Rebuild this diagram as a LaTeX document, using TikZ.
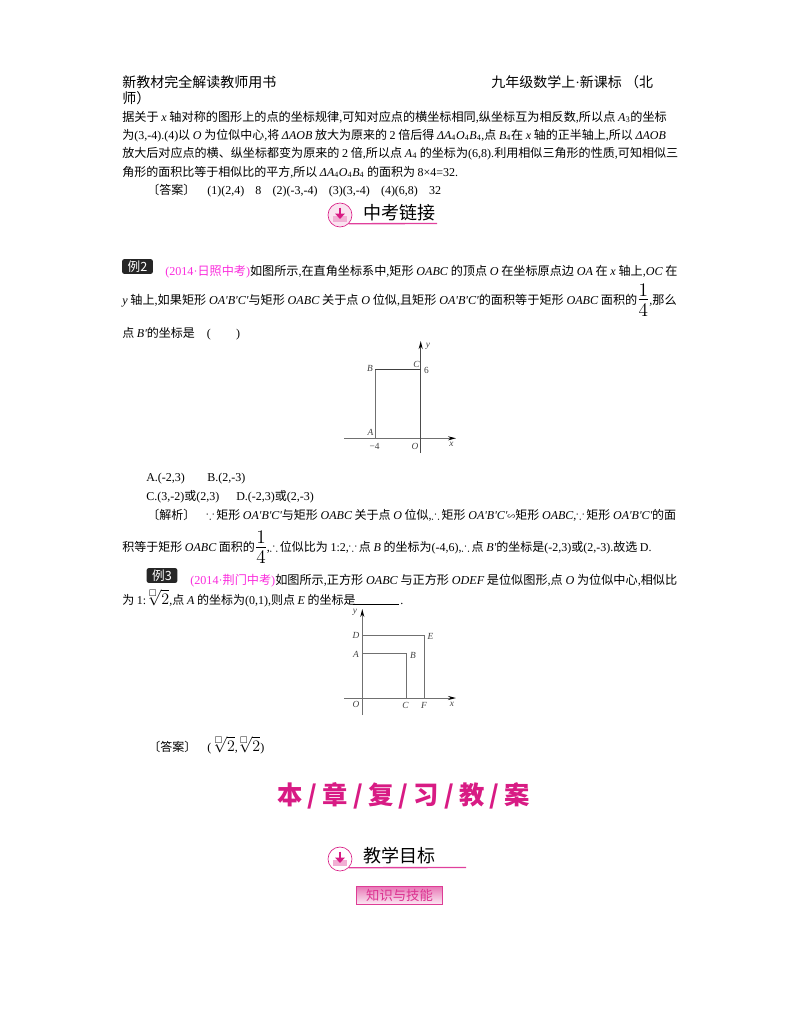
\documentclass[tikz,border=0pt]{standalone}
\usepackage{amsmath,amssymb}
\usepackage[no-math]{fontspec}
\setmainfont{Noto Sans CJK SC}
\newfontfamily\latinf{Liberation Serif}
\usetikzlibrary{positioning,arrows.meta}
\definecolor{zkpink}{HTML}{D81B84}
\definecolor{zkline}{HTML}{E0409C}
\definecolor{zkmag}{HTML}{FA2CDC}
\definecolor{zkaxis}{HTML}{707070}
\newcommand{\en}[1]{{\latinf #1}}
\newcommand{\vv}[1]{{\latinf\itshape #1}}
\newcommand{\low}[1]{\textsubscript{\latinf #1}}
\newcommand{\quarter}{{\fontsize{13.5}{14}\selectfont\kern1pt\raisebox{-9.5pt}{\vbox{\offinterlineskip\hsize=7pt\hbox to 7pt{\hfil$1$\hfil}\kern2.6pt\hrule height 0.6pt\kern3pt\hbox to 7pt{\hfil$4$\hfil}}}\kern1pt}}
\newcommand{\cbrt}{{\fontsize{11.5}{11.5}\selectfont$\sqrt[\square]{2}$}}
\newcommand{\simsign}{{\fontsize{6}{6}\selectfont ∽}}
\newcommand{\thfr}{$\therefore$\hspace{1.5pt}}
\newcommand{\bcs}{$\because$\hspace{1.5pt}}
\tikzset{
  bodyline/.style={anchor=base west, inner sep=0pt, font=\fontsize{9}{11}\selectfont},
  bodyfit/.style={bodyline, font=\fontsize{#1}{11}\selectfont},
  headline/.style={anchor=base west, inner sep=0pt, font=\fontsize{10.5}{12}\selectfont},
  sechead/.style={anchor=base west, inner sep=0pt, font=\fontsize{13.5}{15}\selectfont},
  examtag/.style={fill=black!85, text=white, rounded corners=1.5pt, minimum width=23pt, minimum height=11pt, inner sep=0pt, font=\fontsize{9.5}{10}\selectfont},
  axisline/.style={draw=zkaxis, line width=0.7pt},
  axisarrow/.style={axisline, -{Stealth[length=6pt,width=3pt,black]}},
  axislabel/.style={inner sep=0pt, text=black!75, font=\latinf\itshape\fontsize{7}{8}\selectfont},
  iconring/.style={circle, draw=zkpink, fill=#1, line width=0.5pt, minimum size=18pt, inner sep=0pt},
  underpink/.style={draw=zkline, line width=1pt},
  icontray/.style={fill=zkpink!35},
  iconarrow/.style={-{Triangle[length=4pt,width=7pt]}, zkpink, line width=2pt},
}
\begin{document}
\begin{tikzpicture}[x=0.75pt,y=-0.75pt]
	\useasboundingbox (0,0) rectangle (800,1028);
	% Header
	\node[headline] (hdrL) at (122,87) {新教材完全解读教师用书};
	\node[headline] (hdrR) at (491,87) {九年级数学上\en{·}新课标 （北};
	\node[headline] (hdrW) at (122,103) {师）};

	% Answer text
	\node[bodyfit=9.1] (ans1) at (122,121) {据关于 \vv{x} 轴对称的图形上的点的坐标规律\en{,}可知对应点的横坐标相同\en{,}纵坐标互为相反数\en{,}所以点 \vv{A}\low{3}的坐标};
	\node[bodyline] (ans2) at (122,139) {为\en{(3,-4).(4)}以 \vv{O} 为位似中心\en{,}将 \vv{ΔAOB} 放大为原来的 \en{2} 倍后得 \vv{ΔA}\low{4}\vv{O}\low{4}\vv{B}\low{4}\en{,}点 \vv{B}\low{4}在 \vv{x} 轴的正半轴上\en{,}所以 \vv{ΔAOB}};
	\node[bodyfit=9.05] (ans3) at (122,157) {放大后对应点的横、纵坐标都变为原来的 \en{2} 倍\en{,}所以点 \vv{A}\low{4} 的坐标为\en{(6,8).}利用相似三角形的性质\en{,}可知相似三};
	\node[bodyline] (ans4) at (122,176) {角形的面积比等于相似比的平方\en{,}所以 \vv{ΔA}\low{4}\vv{O}\low{4}\vv{B}\low{4} 的面积为 \en{8×4=32.}};
	\node[bodyline] (ans5) at (147,194) {〔答案〕};
	\node[bodyline] (ans6) at (207,194) {\en{(1)(2,4)\hspace{8.4pt}8\hspace{8.4pt}(2)(-3,-4)\hspace{8.4pt}(3)(3,-4)\hspace{8.4pt}(4)(6,8)\hspace{8.4pt}32}};

	% Section head one
	\node[iconring=zkpink!12] (ic1) at (340,215) {};
	\node[sechead] (sec1) at (363,219) {中考链接};
	\coordinate (ic1e) at (437,223.5);
	\draw[underpink] (ic1.-45) -- (ic1e);
	\fill[icontray] ([xshift=-5pt,yshift=-1pt]ic1.center) rectangle ([xshift=5pt,yshift=-5pt]ic1.center);
	\draw[iconarrow] ([yshift=5.5pt]ic1.center) -- ([yshift=-3pt]ic1.center);

	% Example two
	\node[examtag] (tag2) at (137.5,266.5) {例2};
	\node[bodyfit=9.09] (ex2a) at (165,275) {\textcolor{zkmag}{\en{(2014·}日照中考\en{)}}如图所示\en{,}在直角坐标系中\en{,}矩形 \vv{OABC} 的顶点 \vv{O} 在坐标原点边 \vv{OA} 在 \vv{x} 轴上\en{,}\vv{OC} 在};
	\node[bodyfit=9.11] (ex2b) at (122,304) {\vv{y} 轴上\en{,}如果矩形 \vv{OA'B'C'}与矩形 \vv{OABC} 关于点 \vv{O} 位似\en{,}且矩形 \vv{OA'B'C'}的面积等于矩形 \vv{OABC} 面积的\quarter\en{,}那么};
	\node[bodyline] (ex2c) at (122,337) {点 \vv{B'}的坐标是\hspace{9pt}\en{(\hspace{19pt})}};

	% Figure one
	\coordinate (O1) at (420.7,438.3);
	\coordinate (A1) at (375,438.3);
	\coordinate (B1) at (375,369.3);
	\coordinate (C1) at (420.7,369.3);
	\coordinate (xL1) at (344,438.3);
	\coordinate (xR1) at (456,438.3);
	\coordinate (yB1) at (420.7,453);
	\coordinate (yT1) at (420.7,341);
	\draw[axisarrow] (xL1) -- (xR1);
	\draw[axisarrow, draw=black!70, line width=1pt] (yB1) -- (yT1);
	\draw[axisline] (A1) -- (B1);
	\draw[axisline, draw=black!75] (B1) -- (C1);
	\node[axislabel] (lbB1) at (370,368.5) {B};
	\node[axislabel] (lbC1) at (416.5,364.5) {C};
	\node[axislabel, font=\latinf\fontsize{7}{8}\selectfont] (lb61) at (426.5,370) {6};
	\node[axislabel] (lby1) at (428,346.5) {y};
	\node[axislabel] (lbA1) at (370.5,432) {A};
	\node[axislabel, font=\latinf\fontsize{7}{8}\selectfont] (lbm1) at (374.5,446.5) {−4};
	\node[axislabel] (lbO1) at (415,446) {O};
	\node[axislabel] (lbx1) at (451.5,444.5) {x};

	% Choices and analysis
	\node[bodyline] (ch1) at (146,481) {\en{A.(-2,3)}};
	\node[bodyline] (ch2) at (207,481) {\en{B.(2,-3)}};
	\node[bodyline] (ch3) at (146,500) {\en{C.(3,-2)}或\en{(2,3)}};
	\node[bodyline] (ch4) at (236,500) {\en{D.(-2,3)}或\en{(2,-3)}};
	\node[bodyline] (ana0) at (147,519) {〔解析〕};
	\node[bodyline] (ana1) at (206,519) {\bcs 矩形 \vv{OA'B'C'}与矩形 \vv{OABC} 关于点 \vv{O} 位似\en{,}\thfr 矩形 \vv{OA'B'C'}\simsign 矩形 \vv{OABC}\en{,}\bcs 矩形 \vv{OA'B'C'}的面};
	\node[bodyline] (ana2) at (122,551) {积等于矩形 \vv{OABC} 面积的\quarter\en{,}\thfr 位似比为 \en{1:2,}\bcs 点 \vv{B} 的坐标为\en{(-4,6),}\thfr 点 \vv{B'}的坐标是\en{(-2,3)}或\en{(2,-3).}故选 \en{D.}};

	% Example three
	\node[examtag] (tag3) at (162,575.5) {例3};
	\node[bodyfit=9.11] (ex3a) at (190,584) {\textcolor{zkmag}{\en{(2014·}荆门中考\en{)}}如图所示\en{,}正方形 \vv{OABC} 与正方形 \vv{ODEF} 是位似图形\en{,}点 \vv{O} 为位似中心\en{,}相似比};
	\node[bodyline] (ex3b) at (122,604) {为 \en{1:}\hspace{-1.5pt}\cbrt\en{,}点 \vv{A} 的坐标为\en{(0,1),}则点 \vv{E} 的坐标是};
	\coordinate (blankL) at (353,604.5);
	\coordinate (blankR) at (399,604.5);
	\draw[line width=0.5pt] (blankL) -- (blankR);
	\node[bodyline] (ex3c) at (400,604) {\en{.}};

	% Figure two
	\coordinate (O2) at (362.3,698);
	\coordinate (A2) at (362.3,653.3);
	\coordinate (B2) at (406.7,653.3);
	\coordinate (C2) at (406.7,698);
	\coordinate (D2) at (362.3,635.7);
	\coordinate (E2) at (424.7,635.7);
	\coordinate (F2) at (424.7,698);
	\coordinate (xL2) at (344,698);
	\coordinate (xR2) at (456,698);
	\coordinate (yB2) at (362.3,715);
	\coordinate (yT2) at (362.3,609);
	\draw[axisarrow] (xL2) -- (xR2);
	\draw[axisarrow] (yB2) -- (yT2);
	\draw[axisline] (A2) -- (B2) -- (C2);
	\draw[axisline] (D2) -- (E2) -- (F2);
	\node[axislabel] (lby2) at (355,612) {y};
	\node[axislabel] (lbD2) at (356,635.5) {D};
	\node[axislabel] (lbA2) at (356,654) {A};
	\node[axislabel] (lbB2) at (413,655) {B};
	\node[axislabel] (lbE2) at (430.5,636.5) {E};
	\node[axislabel] (lbO2) at (356,704.5) {O};
	\node[axislabel] (lbC2) at (405.5,705) {C};
	\node[axislabel] (lbF2) at (424,705) {F};
	\node[axislabel] (lbx2) at (452,704) {x};

	% Answer three
	\node[bodyline] (ans3a) at (148,751) {〔答案〕};
	\node[bodyline] (ans3b) at (207,751) {\en{(}\hspace{-1pt}\cbrt\en{,}\hspace{-2pt}\cbrt\en{)}};

	% Chapter title
	\node[anchor=base west, inner sep=0pt, text=zkpink, font=\bfseries\fontsize{19}{21}\selectfont] (chap) at (277,804) {本\hspace{3.9pt}/\hspace{3.9pt}章\hspace{3.9pt}/\hspace{3.9pt}复\hspace{3.9pt}/\hspace{3.9pt}习\hspace{3.9pt}/\hspace{3.9pt}教\hspace{3.9pt}/\hspace{3.9pt}案};

	% Section head two
	\node[iconring=white] (ic2) at (340,859) {};
	\node[sechead] (sec2) at (363,862) {教学目标};
	\coordinate (ic2e) at (466,867.5);
	\draw[underpink] (ic2.-45) -- (ic2e);
	\fill[icontray] ([xshift=-5pt,yshift=-1pt]ic2.center) rectangle ([xshift=5pt,yshift=-5pt]ic2.center);
	\draw[iconarrow] ([yshift=5.5pt]ic2.center) -- ([yshift=-3pt]ic2.center);

	% Badge
	\node[draw=zkpink!85, line width=0.6pt, top color=zkpink!60, bottom color=zkpink!8, text=zkpink!90, minimum width=65pt, minimum height=14pt, inner sep=0pt, font=\fontsize{10}{11}\selectfont] (badge) at (399.5,895.5) {知识与技能};
\end{tikzpicture}
\end{document}
